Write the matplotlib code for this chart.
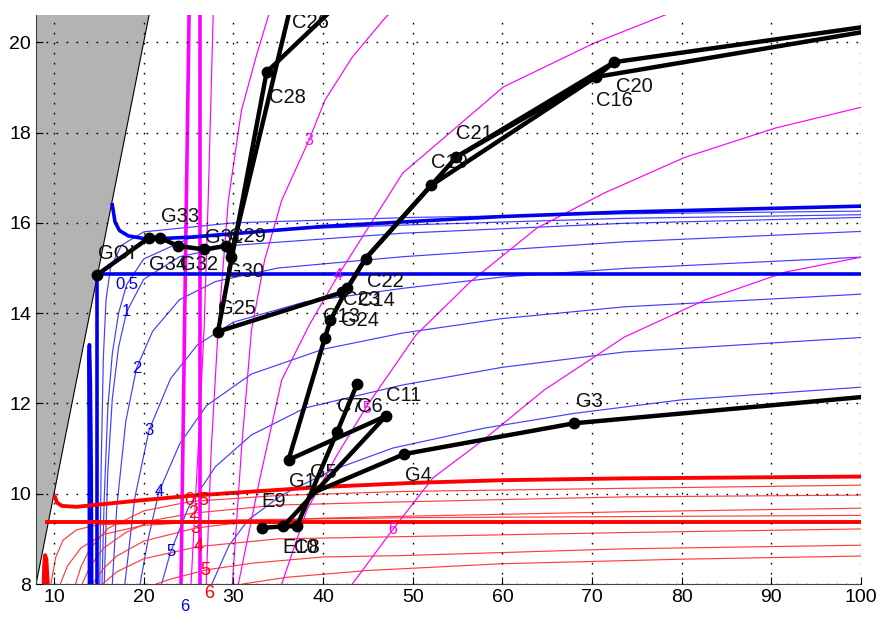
import matplotlib
matplotlib.use("Agg")
import matplotlib.pyplot as plt
import numpy as np

# ---------------------------------------------------------------- curve data
# blue family (x, y) pairs
blue_thick_top = [(16.5, 16.4), (16.8, 16.02), (17.3, 15.83), (18.3, 15.71), (20.4, 15.64),
                  (25, 15.68), (30, 15.76), (40, 15.92), (48.9, 16.02), (60, 16.14),
                  (73.6, 16.24), (100, 16.37)]
blue_thick_h = [(14.8, 14.86), (100, 14.86)]
blue_thick_v = [(14.8, 8.0), (14.8, 14.86)]
blue_spike = [(13.95, 8.0), (13.93, 11.0), (13.88, 13.0), (13.95, 13.3), (14.05, 12.5),
              (14.15, 10.5), (14.2, 8.0)]
blue_thin = [
    [(15.1, 8.0), (15.25, 10.5), (15.5, 13.0), (15.8, 14.3), (16.3, 15.0), (17.5, 15.5),
     (20, 15.8), (30, 16.0), (50, 16.12), (73.6, 16.2), (100, 16.26)],
    [(15.35, 8.0), (15.6, 9.9), (16, 11.9), (16.5, 13.1), (17.2, 14.0), (18.1, 14.63),
     (20, 15.2), (25, 15.65), (35, 15.85), (48.9, 15.95), (73.6, 16.1), (100, 16.18)],
    [(15.6, 8.0), (16, 10.5), (16.5, 12.1), (17.2, 13.25), (18.1, 14.03), (20, 14.75),
     (24, 15.25), (30, 15.5), (48.9, 15.77), (73.6, 15.99), (100, 16.12)],
    [(16.5, 8.0), (17, 9.7), (18, 11.6), (19.2, 12.78), (21, 13.6), (24, 14.3), (28, 14.7),
     (35, 15.0), (48.9, 15.25), (73.6, 15.58), (100, 15.81)],
    [(17.9, 8.0), (19, 9.9), (20.6, 11.41), (23, 12.55), (26, 13.3), (30, 13.8), (38, 14.25),
     (48.9, 14.55), (60, 14.8), (73.6, 14.99), (100, 15.24)],
    [(19.6, 8.0), (20.5, 9.0), (21.7, 10.04), (24, 11.1), (27, 11.95), (32, 12.65), (40, 13.2),
     (48.9, 13.56), (60, 13.88), (73.6, 14.14), (100, 14.42)],
    [(22.0, 8.0), (23.0, 8.71), (25, 9.7), (28, 10.6), (32, 11.3), (38, 11.9), (48.9, 12.41),
     (60, 12.8), (73.6, 13.14), (100, 13.46)],
    [(27.6, 8.0), (29.5, 8.85), (31.65, 9.42), (35.4, 9.97), (41.0, 10.52), (47.75, 11.01),
     (57.9, 11.45), (68, 11.78), (80, 12.08), (100, 12.36)],
]
blue_labels = ["0.5", "1", "2", "3", "4", "5", "6"]
blue_label_xy = [(18.1, 14.63), (18.1, 14.03), (19.2, 12.78), (20.6, 11.41), (21.7, 10.04),
                 (23.0, 8.71), (24.6, 7.5)]

# red family
red_thick_h = [(9.2, 9.37), (100, 9.37)]
red_thick_hook = [(10.1, 9.93), (10.35, 9.8), (10.9, 9.73), (12.5, 9.71), (15, 9.76),
                  (20, 9.86), (25, 9.95), (30, 10.02), (40, 10.15), (50, 10.24), (60, 10.3),
                  (73.6, 10.34), (100, 10.38)]
red_spike = [(8.85, 8.0), (8.9, 8.4), (9.0, 8.64), (9.15, 8.55), (9.3, 8.0)]
red_thin = [
    [(9.65, 8.0), (10.2, 8.6), (11.0, 8.97), (12.5, 9.2), (14.8, 9.31), (20, 9.35),
     (40, 9.36), (100, 9.37)],
    [(10.7, 8.0), (11.5, 8.4), (13, 8.8), (15.5, 9.1), (20, 9.3), (30, 9.42), (50, 9.47),
     (100, 9.52)],
    [(12.4, 8.0), (13, 8.38), (14, 8.78), (16, 9.23), (20, 9.62), (25.3, 9.83), (35, 9.96),
     (48.9, 10.05), (73.6, 10.12), (100, 10.19)],
    [(13.13, 8.0), (14, 8.38), (15.5, 8.79), (18, 9.14), (21, 9.41), (25.5, 9.57), (35, 9.75),
     (48.9, 9.82), (73.6, 9.93), (100, 9.97)],
    [(14.3, 8.0), (15.5, 8.34), (17, 8.62), (20, 8.95), (25.8, 9.24), (32, 9.39), (40, 9.46),
     (48.9, 9.5), (73.6, 9.6), (100, 9.68)],
    [(15.4, 8.0), (17, 8.27), (20, 8.56), (26.1, 8.83), (35, 9.0), (48.9, 9.05), (73.6, 9.14),
     (100, 9.22)],
    [(21.4, 8.0), (23, 8.11), (26.9, 8.31), (32, 8.46), (40, 8.6), (48.9, 8.63), (73.6, 8.78),
     (100, 8.86)],
    [(31, 8.0), (36, 8.15), (45, 8.3), (60, 8.45), (80, 8.55), (100, 8.62)],
]
red_labels = ["0.5", "2", "3", "4", "5", "6"]
red_label_xy = [(25.96, 9.84), (25.5, 9.57), (25.8, 9.24), (26.1, 8.83), (26.9, 8.31),
                (27.3, 7.78)]

# magenta family
mag_thick = [
    [(24.16, 8.0), (24.6, 14.29), (25.06, 20.6)],
    [(26.29, 8.0), (26.29, 20.6)],
]
mag_thin = [
    [(25.28, 8.0), (26.07, 10.97), (26.74, 13.67), (27.19, 16.5), (27.75, 20.6)],
    [(26.97, 8.0), (27.53, 10.97), (28.31, 13.67), (29.44, 16.5), (30.9, 18.49), (32.58, 19.71),
     (33.93, 20.6)],
    [(29.89, 8.0), (30.9, 10.97), (32.02, 13.62), (33.48, 15.17), (35.39, 16.5), (38.43, 17.83),
     (40.22, 18.72), (43.26, 19.67), (46.97, 20.55), (47.75, 20.7)],
    [(30.56, 8.0), (32.92, 10.3), (35.39, 12.52), (38.5, 13.75), (41.69, 14.84), (48.88, 17.1),
     (60.11, 19.01), (70.22, 19.98), (78.09, 20.6), (80.3, 20.75)],
    [(35.39, 8.0), (38.2, 9.64), (41.57, 10.86), (44.94, 11.96), (50.34, 13.51), (56.4, 14.69),
     (63.82, 15.88), (71.35, 16.66), (80.34, 17.45), (90.45, 18.1), (100, 18.56)],
    [(43.26, 8.0), (47.75, 9.2), (52.25, 10.35), (57.87, 11.19), (64.61, 12.29), (73.6, 13.47),
     (82.58, 14.29), (91.57, 14.91), (100, 15.24)],
]
mag_labels = ["3", "4", "5", "6"]
mag_label_xy = [(38.4, 17.83), (41.7, 14.84), (44.9, 11.89), (47.75, 9.2)]

# ---------------------------------------------------------------- measured states
pts = {
    "GOI": (14.80, 14.85), "G34": (20.60, 15.67), "G33": (21.83, 15.67),
    "G32a": (23.79, 15.49), "G32": (26.78, 15.41), "G31": (29.13, 15.49),
    "G30": (29.70, 15.25), "C26": (36.6, 20.97), "C28": (33.71, 19.34),
    "C27": (43.0, 21.1), "G25": (28.28, 13.59), "C23": (42.13, 14.46),
    "C13": (40.19, 13.44), "G24": (40.82, 13.84), "C14": (42.70, 14.55),
    "C22": (44.75, 15.21), "C19": (52.06, 16.83), "C21": (54.87, 17.46),
    "C16": (70.42, 19.23), "C20": (72.47, 19.56), "R1": (100, 20.22), "R2": (100, 20.33),
    "G1": (36.15, 10.75), "C11": (47.0, 11.72), "C7": (43.82, 12.44), "C6": (41.57, 11.37),
    "G5": (38.76, 10.01), "E9": (33.15, 9.24), "E10": (35.58, 9.28), "C8": (37.08, 9.28),
    "G4": (49.07, 10.88), "G3": (67.98, 11.56), "R3": (100, 12.14),
}
paths = [
    ["GOI", "G34", "G33", "G32a", "G32", "G31", "G30", "C26"],
    ["C23", "G25", "C28", "C27"],
    ["G1", "C13", "G24", "C14", "C22", "C19", "C21", "C20", "R2"],
    ["C14", "C22", "C19", "C16", "R1"],
    ["C21", "C16", "C20"],
    ["G1", "C11"],
    ["E10", "C11"],
    ["E9", "E10", "C8"],
    ["C8", "C6", "C7"],
    ["G5", "G4", "G3", "R3"],
]
markers = ["GOI", "G34", "G33", "G32a", "G32", "G31", "G30", "C28", "G25", "C23", "C13",
           "G24", "C14", "C22", "C19", "C21", "C16", "C20", "G1", "C11", "C7", "C6",
           "E9", "E10", "C8", "G4", "G3"]
# text anchors (left edge, vertical centre)
names = ["GOI", "G33", "G34", "G32", "G31", "C29", "G30", "G25", "C28", "C26",
         "C21", "C19", "C16", "C20", "C22", "C23", "C14", "C13", "G24",
         "C11", "C7", "C6", "G1", "G5", "E9", "E10", "C8", "G4", "G3"]
name_xy = [(14.9, 15.33), (21.9, 16.14), (20.6, 15.08), (24.0, 15.08), (26.8, 15.68),
           (29.5, 15.7), (29.2, 14.93), (28.3, 14.11), (34.0, 18.78), (36.5, 20.44),
           (54.85, 17.98), (52.0, 17.34), (70.45, 18.72), (72.7, 19.02),
           (44.9, 14.71), (42.2, 14.3), (43.9, 14.29), (40.0, 13.92), (42.0, 13.84),
           (46.97, 12.18), (41.57, 11.93), (43.8, 11.94), (36.2, 10.28), (38.5, 10.48),
           (33.1, 9.82), (35.5, 8.82), (36.8, 8.82), (49.1, 10.41), (68.2, 12.05)]

x_ticks = np.arange(10, 101, 10)
y_ticks = np.arange(8, 21, 2)

# ---------------------------------------------------------------- drawing
plt.rcParams["font.family"] = ["Liberation Sans", "DejaVu Sans"]
fig = plt.figure(figsize=(8.8, 6.19), dpi=100)
ax = fig.add_axes([0.041, 0.0565, 0.9375, 0.919])
ax.set_xlim(8, 100)
ax.set_ylim(8, 20.6)

# infeasible region above the diagonal
ax.fill([8, 8, 20.6], [8, 20.6, 20.6], color="#b3b3b3", zorder=0.5, lw=0)
ax.plot([8, 20.6], [8, 20.6], color="k", lw=0.8, zorder=0.6)


def line(p, **kw):
    a = np.asarray(p)
    ax.plot(a[:, 0], a[:, 1], **kw)


for c in blue_thin:
    line(c, color="#2a2aff", lw=0.85, alpha=0.9, zorder=2)
for c in (blue_thick_top, blue_thick_h, blue_thick_v, blue_spike):
    line(c, color="#0000ee", lw=2.6, zorder=2.2)
for c in red_thin:
    line(c, color="#ff2a2a", lw=0.85, alpha=0.9, zorder=2)
for c in (red_thick_h, red_thick_hook, red_spike):
    line(c, color="#ff0000", lw=2.8, zorder=2.2)
for c in mag_thin:
    line(c, color="#ff00ff", lw=0.85, zorder=2.1)
for c in mag_thick:
    line(c, color="#ff00ff", lw=2.6, zorder=2.1)

for t, (x, y) in zip(blue_labels, blue_label_xy):
    ax.text(x, y, t, color="#0000ee", fontsize=12, ha="center", va="center", clip_on=False)
for t, (x, y) in zip(red_labels, red_label_xy):
    ax.text(x, y, t, color="#ff0000", fontsize=13, ha="center", va="center", clip_on=False)
for t, (x, y) in zip(mag_labels, mag_label_xy):
    ax.text(x, y, t, color="#ff00ff", fontsize=11.5, ha="center", va="center", clip_on=False)

for p in paths:
    xy = np.array([pts[k] for k in p])
    ax.plot(xy[:, 0], xy[:, 1], color="k", lw=3.2, zorder=3, solid_capstyle="round",
            solid_joinstyle="round")
mk = np.array([pts[k] for k in markers])
ax.plot(mk[:, 0], mk[:, 1], "o", color="k", ms=7.5, zorder=3.5)

for t, (x, y) in zip(names, name_xy):
    ax.text(x, y, t, fontsize=14.5, ha="left", va="center", color="#111111", zorder=4,
            clip_on=True)

ax.set_xticks(x_ticks)
ax.set_yticks(y_ticks)
ax.tick_params(direction="in", length=5, labelsize=14, width=0.8)
ax.grid(True, color="k", ls=(0, (1.2, 6)), lw=1.0)
ax.set_axisbelow(False)
for s in ("top", "right"):
    ax.spines[s].set_visible(False)
for s in ("left", "bottom"):
    ax.spines[s].set_color("#444444")

fig.savefig("out.png", dpi=100)
